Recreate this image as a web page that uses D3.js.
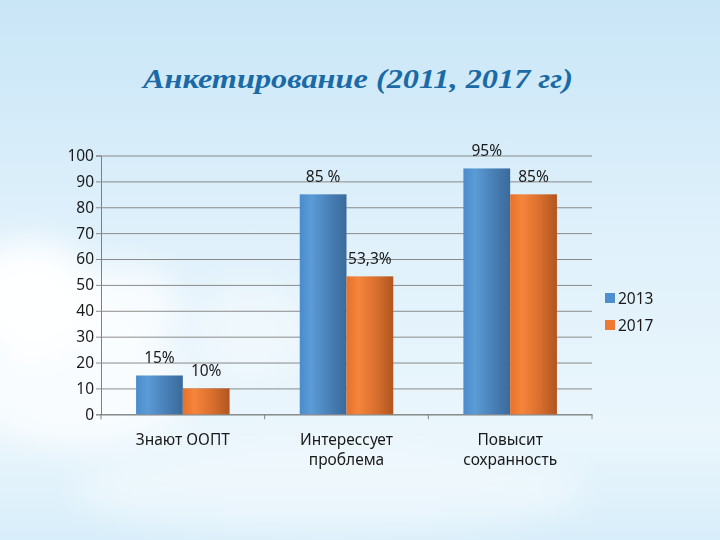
<!DOCTYPE html>
<html>
<head>
<meta charset="utf-8">
<script src="https://cdn.jsdelivr.net/npm/d3@7"></script>
<style>
  html, body { margin: 0; padding: 0; }
  body { width: 720px; height: 540px; overflow: hidden; }
</style>
</head>
<body>
<div id="chart"></div>
<script>
// категории, серии и подписи
const categories = ['Знают ООПТ', 'Интерессует проблема', 'Повысит сохранность'];
const categoryLines = [['Знают ООПТ'], ['Интерессует', 'проблема'], ['Повысит', 'сохранность']];
const seriesNames = ['2013', '2017'];
const values2013 = [15, 85, 95];
const values2017 = [10, 53.3, 85];
const labels2013 = ['15%', '85 %', '95%'];
const labels2017 = ['10%', '53,3%', '85%'];
const yTicks = [0, 10, 20, 30, 40, 50, 60, 70, 80, 90, 100];

const width = 720;
const height = 540;
const margin = {top: 155.5, left: 101, bottom: 125.7, right: 128};

const svg = d3.select('#chart').append('svg')
  .attr('width', width)
  .attr('height', height);

const defs = svg.append('defs');

// фон: небо
const sky = defs.append('linearGradient').attr('id', 'sky')
  .attr('x1', 0).attr('y1', 0).attr('x2', 0).attr('y2', 1);
sky.append('stop').attr('offset', 0).attr('stop-color', '#c9e6f7');
sky.append('stop').attr('offset', 0.45).attr('stop-color', '#e0f1fb');
sky.append('stop').attr('offset', 0.8).attr('stop-color', '#eaf6fc');
sky.append('stop').attr('offset', 1).attr('stop-color', '#d8eefa');

defs.append('filter').attr('id', 'blur')
  .attr('x', '-50%').attr('y', '-50%').attr('width', '200%').attr('height', '200%')
  .append('feGaussianBlur').attr('stdDeviation', 16);

const grad = (id, stops) => {
  const g = defs.append('linearGradient').attr('id', id)
    .attr('x1', 0).attr('y1', 0).attr('x2', 1).attr('y2', 0);
  stops.forEach(s => g.append('stop').attr('offset', s[0]).attr('stop-color', s[1]));
};
grad('g2013', [[0, '#4a8ccc'], [0.25, '#5b9bd6'], [0.6, '#4a82ba'], [1, '#3a6a9a']]);
grad('g2017', [[0, '#e8702c'], [0.25, '#f5853a'], [0.6, '#dc7030'], [1, '#b0561f']]);
const fills = ['url(#g2013)', 'url(#g2017)'];
const legendColors = ['#4f8fcf', '#ee7a32'];

svg.append('rect').attr('width', width).attr('height', height).attr('fill', 'url(#sky)');

// облака
const clouds = svg.append('g').attr('filter', 'url(#blur)').attr('fill', '#ffffff');
clouds.append('ellipse').attr('cx', 30).attr('cy', 300).attr('rx', 70).attr('ry', 60).attr('opacity', 0.95);
clouds.append('ellipse').attr('cx', 130).attr('cy', 310).attr('rx', 50).attr('ry', 45).attr('opacity', 0.75);
clouds.append('ellipse').attr('cx', 80).attr('cy', 390).attr('rx', 110).attr('ry', 55).attr('opacity', 0.7);
clouds.append('ellipse').attr('cx', 250).attr('cy', 330).attr('rx', 60).attr('ry', 50).attr('opacity', 0.4);
clouds.append('ellipse').attr('cx', 330).attr('cy', 490).attr('rx', 260).attr('ry', 45).attr('opacity', 0.4);

// заголовок
svg.append('text')
  .attr('x', 358).attr('y', 88)
  .attr('text-anchor', 'middle')
  .attr('textLength', 430)
  .attr('lengthAdjust', 'spacingAndGlyphs')
  .style('font-family', '"Liberation Serif", "Times New Roman", serif')
  .style('font-weight', 'bold')
  .style('font-style', 'italic')
  .style('font-size', '28px')
  .attr('fill', '#1b6aa6')
  .text('Анкетирование (2011, 2017 гг)');

const x = d3.scaleBand()
  .domain(categories)
  .range([margin.left, width - margin.right])
  .paddingInner(0)
  .paddingOuter(0);

const xInner = d3.scaleBand()
  .domain(seriesNames)
  .range([0, x.bandwidth()])
  .paddingInner(0)
  .paddingOuter(0.75);

const y = d3.scaleLinear()
  .domain([0, 100])
  .range([height - margin.bottom, margin.top]);

const font = '"Noto Sans", "DejaVu Sans", sans-serif';

// сетка и ось Y
const yAxis = g => g
  .attr('transform', `translate(${margin.left}, 0)`)
  .call(d3.axisLeft(y).tickValues(yTicks).tickSize(5).tickPadding(2))
  .call(g => g.select('.domain').attr('stroke', '#7f7f7f'))
  .call(g => g.selectAll('.tick line').clone()
    .attr('x2', width - margin.left - margin.right)
    .attr('stroke', '#8a8a8a'))
  .call(g => g.selectAll('.tick line').attr('stroke', '#8a8a8a'))
  .call(g => g.selectAll('text')
    .style('font-family', font).style('font-size', '15.5px').attr('fill', '#1a1a1a'));

svg.append('g').call(yAxis);

// ось X
const xAxis = g => g
  .attr('transform', `translate(0, ${height - margin.bottom})`)
  .call(d3.axisBottom(x).tickValues([]).tickSizeOuter(0))
  .call(g => g.select('.domain').attr('stroke', '#7f7f7f'));
svg.append('g').call(xAxis);

// деления между категориями
svg.append('g').selectAll('line')
  .data([0, 1, 2, 3]).enter().append('line')
  .attr('x1', i => margin.left + i * x.step())
  .attr('x2', i => margin.left + i * x.step())
  .attr('y1', y(0)).attr('y2', y(0) + 5)
  .attr('stroke', '#7f7f7f');

// подписи категорий
const catG = svg.append('g').selectAll('text')
  .data(categories).enter().append('text')
  .attr('x', d => x(d) + x.bandwidth() / 2)
  .attr('y', y(0) + 31)
  .attr('text-anchor', 'middle')
  .style('font-family', font).style('font-size', '15.5px')
  .attr('fill', '#1a1a1a');
catG.each(function(d, i) {
  const t = d3.select(this);
  categoryLines[i].forEach((line, j) => {
    t.append('tspan').attr('x', x(d) + x.bandwidth() / 2).attr('dy', j === 0 ? 0 : 20).text(line);
  });
});

// столбцы
const series = [
  {name: seriesNames[0], values: values2013, labels: labels2013},
  {name: seriesNames[1], values: values2017, labels: labels2017}
];

series.forEach((s, si) => {
  const rows = categories.map((c, i) => ({c, v: s.values[i], l: s.labels[i]}));
  svg.append('g').selectAll('rect')
    .data(rows).enter().append('rect')
    .attr('x', d => x(d.c) + xInner(s.name))
    .attr('y', d => y(d.v))
    .attr('width', xInner.bandwidth())
    .attr('height', d => y(0) - y(d.v))
    .attr('fill', fills[si]);

  svg.append('g').selectAll('text')
    .data(rows).enter().append('text')
    .attr('x', d => x(d.c) + xInner(s.name) + xInner.bandwidth() / 2)
    .attr('y', d => y(d.v) - 12)
    .attr('text-anchor', 'middle')
    .style('font-family', font).style('font-size', '15.5px')
    .attr('fill', '#1a1a1a')
    .text(d => d.l);
});

// легенда
const legend = svg.append('g').selectAll('g')
  .data(seriesNames).enter().append('g')
  .attr('transform', (d, i) => `translate(605, ${293 + i * 27})`);
legend.append('rect')
  .attr('width', 10).attr('height', 10)
  .attr('fill', (d, i) => legendColors[i]);
legend.append('text')
  .attr('x', 13).attr('y', 10.5)
  .style('font-family', font).style('font-size', '15.5px')
  .attr('fill', '#1a1a1a')
  .text(d => d);
</script>
</body>
</html>
